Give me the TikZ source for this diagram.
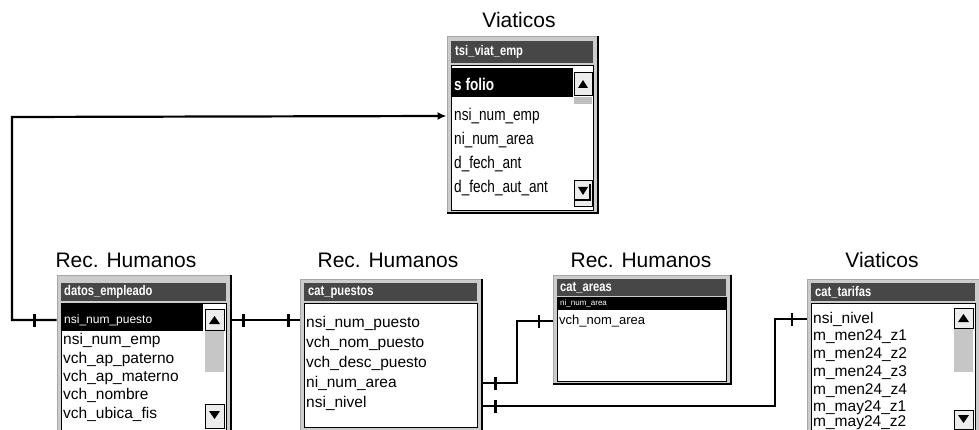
\documentclass[tikz,border=0pt]{standalone}
\usepackage{fontspec}
\setmainfont{Liberation Sans}
\newfontfamily\narrowf[FakeStretch=0.8]{Liberation Sans}
\usetikzlibrary{arrows.meta}
\tikzset{
  tabframe/.style={draw=gray!70, line width=1pt, fill=gray!40, inner sep=0pt},
  inner/.style={draw=black, line width=0.8pt, fill=white},
  hdr/.style={fill=black!72},
  hdrtxt/.style={anchor=west, text=white, font=\narrowf\fontsize{14}{14}\selectfont\bfseries, inner sep=0pt},
  ttl/.style={font=\fontsize{21}{21}\selectfont, inner sep=0pt},
  rowtxt/.style={anchor=west, font=\fontsize{15.5}{16}\selectfont, inner sep=0pt},
  vrowtxt/.style={anchor=west, font=\narrowf\fontsize{17}{17}\selectfont, inner sep=0pt},
  seltxt/.style={anchor=west, text=white, inner sep=0pt},
  conn/.style={line width=2.2pt, black},
  barmark/.style={fill=black, minimum width=2.4pt, minimum height=13pt, inner sep=0pt, outer sep=0pt},
  sbtn/.style={draw=black, line width=0.8pt, fill=gray!15},
}
\begin{document}
\begin{tikzpicture}[x=1pt,y=-1pt]
\useasboundingbox (0,0) rectangle (979,430);
\fill[white] (0,0) rectangle (979,430);

% ---------------- Viaticos (top) ----------------
\node[ttl] (tV) at (519,20) {Viaticos};
\node[tabframe, minimum width=150pt, minimum height=176pt] (viat) at (522,125) {};
\draw[line width=2pt] (viat.north east) -- (viat.south east) -- (viat.south west);
\fill[hdr] (451,41) rectangle (593,63);
\node[hdrtxt] (vh) at (455,52) {tsi\_viat\_emp};
\draw[inner] (451,65) rectangle (593,210);
\fill[black] (451,68) rectangle (573,97);
\node[seltxt, font=\narrowf\fontsize{17}{17}\selectfont\bfseries] (v1) at (454,84) {s folio};
\node[vrowtxt] (v2) at (454,116) {nsi\_num\_emp};
\node[vrowtxt] (v3) at (454,140) {ni\_num\_area};
\node[vrowtxt] (v4) at (454,164) {d\_fech\_ant};
\node[vrowtxt] (v5) at (454,188) {d\_fech\_aut\_ant};
\draw[sbtn] (574,72) rectangle (592,95);
\fill (578,88) -- (588,88) -- (583,80) -- cycle;
\fill[gray!50] (574,97) rectangle (592,104);
\draw[sbtn] (574,180) rectangle (592,206);
\fill (578,187) -- (588,187) -- (583,195) -- cycle;
\draw[black, line width=1.5pt] (574,200) -- (590,200) -- (590,184);

% ---------------- datos_empleado ----------------
\node[ttl] (tD) at (126,260) {Rec. Humanos};
\node[tabframe, minimum width=173pt, minimum height=160pt] (emp) at (143.5,355) {};
\draw[line width=2pt] (emp.north east) -- (emp.south east);
\fill[hdr] (61,283) rectangle (226,301);
\node[hdrtxt] (eh) at (64,292) {datos\_empleado};
\draw[inner] (61,303) rectangle (226,432);
\fill[black] (61,304) rectangle (203,331);
\node[seltxt, font=\fontsize{12}{12}\selectfont] (e1) at (64,320) {nsi\_num\_puesto};
\node[rowtxt] (e2) at (63,340) {nsi\_num\_emp};
\node[rowtxt] (e3) at (63,359) {vch\_ap\_paterno};
\node[rowtxt] (e4) at (63,377) {vch\_ap\_materno};
\node[rowtxt] (e5) at (63,395) {vch\_nombre};
\node[rowtxt] (e6) at (63,414) {vch\_ubica\_fis};
\draw[sbtn] (205,309) rectangle (224,330);
\fill (209,324) -- (220,324) -- (214.5,316) -- cycle;
\fill[gray!45] (205,331) rectangle (224,372);
\draw[sbtn] (205,404) rectangle (224,428);
\fill (209,411) -- (220,411) -- (214.5,419) -- cycle;

% ---------------- cat_puestos ----------------
\node[ttl] (tP) at (388,260) {Rec. Humanos};
\node[tabframe, minimum width=181pt, minimum height=153pt] (pue) at (390.5,355.5) {};
\draw[line width=2pt] (pue.north east) -- (pue.south east) -- (pue.south west);
\fill[hdr] (304,283) rectangle (477,301);
\node[hdrtxt] (ph) at (308,292) {cat\_puestos};
\draw[inner] (304,303) rectangle (477,427);
\node[rowtxt] (p1) at (306,323) {nsi\_num\_puesto};
\node[rowtxt] (p2) at (306,343) {vch\_nom\_puesto};
\node[rowtxt] (p3) at (306,363) {vch\_desc\_puesto};
\node[rowtxt] (p4) at (306,383) {ni\_num\_area};
\node[rowtxt] (p5) at (306,403) {nsi\_nivel};

% ---------------- cat_areas ----------------
\node[ttl] (tA) at (641,260) {Rec. Humanos};
\node[tabframe, minimum width=177pt, minimum height=108pt] (are) at (641.5,329) {};
\draw[line width=2pt] (are.north east) -- (are.south east) -- (are.south west);
\fill[hdr] (557,279) rectangle (726,296);
\node[hdrtxt] (ah) at (560,287.5) {cat\_areas};
\draw[inner] (557,297) rectangle (726,381);
\fill[black] (557,297) rectangle (726,310);
\node[seltxt, font=\fontsize{8}{8}\selectfont] (a1) at (560,303.5) {ni\_num\_area};
\node[rowtxt, font=\fontsize{13}{13}\selectfont] (a2) at (559,321) {vch\_nom\_area};

% ---------------- cat_tarifas ----------------
\node[ttl] (tT) at (882,260) {Viaticos};
\node[tabframe, minimum width=173pt, minimum height=153pt] (tar) at (893.5,355.5) {};
\draw[line width=2pt] (tar.north east) -- (tar.south east);
\fill[hdr] (811,283) rectangle (975,301);
\node[hdrtxt] (th) at (815,292) {cat\_tarifas};
\draw[inner] (811,303) rectangle (975,432);
\node[rowtxt] (t1) at (813,319) {nsi\_nivel};
\node[rowtxt] (t2) at (813,337) {m\_men24\_z1};
\node[rowtxt] (t3) at (813,355) {m\_men24\_z2};
\node[rowtxt] (t4) at (813,373) {m\_men24\_z3};
\node[rowtxt] (t5) at (813,391) {m\_men24\_z4};
\node[rowtxt] (t6) at (813,408) {m\_may24\_z1};
\node[rowtxt] (t7) at (813,423) {m\_may24\_z2};
\draw[sbtn] (954,308) rectangle (973,328);
\fill (958,322) -- (969,322) -- (963.5,314) -- cycle;
\fill[gray!45] (954,329) rectangle (973,372);
\draw[sbtn] (954,410) rectangle (973,429);
\fill (958,415) -- (969,415) -- (963.5,423) -- cycle;

% ---------------- connectors ----------------
\coordinate (loopL) at (12,117);
\draw[conn, -{Latex[length=9pt,width=8pt]}] (emp.west |- e1) -- ++(-22,0) node[barmark]{} -| (loopL) -- (viat.west |- v2);

\draw[conn] (emp.east |- e1) -- ++(13,0) node[barmark]{} -- ++(45,0) node[barmark]{} -- (pue.west |- e1);

\coordinate (bendA) at (517,383);
\draw[conn] (pue.east |- bendA) -- ++(14,0) node[barmark]{} -- (bendA) |- ++(0,-62) -- ++(22,0) node[barmark]{} -- (are.west |- a2);

\coordinate (bendT) at (775,406);
\draw[conn] (pue.east |- bendT) -- ++(14,0) node[barmark]{} -- (bendT) -- (bendT |- t1) -- ++(17,0) node[barmark]{} -- (tar.west |- t1);
\end{tikzpicture}
\end{document}
